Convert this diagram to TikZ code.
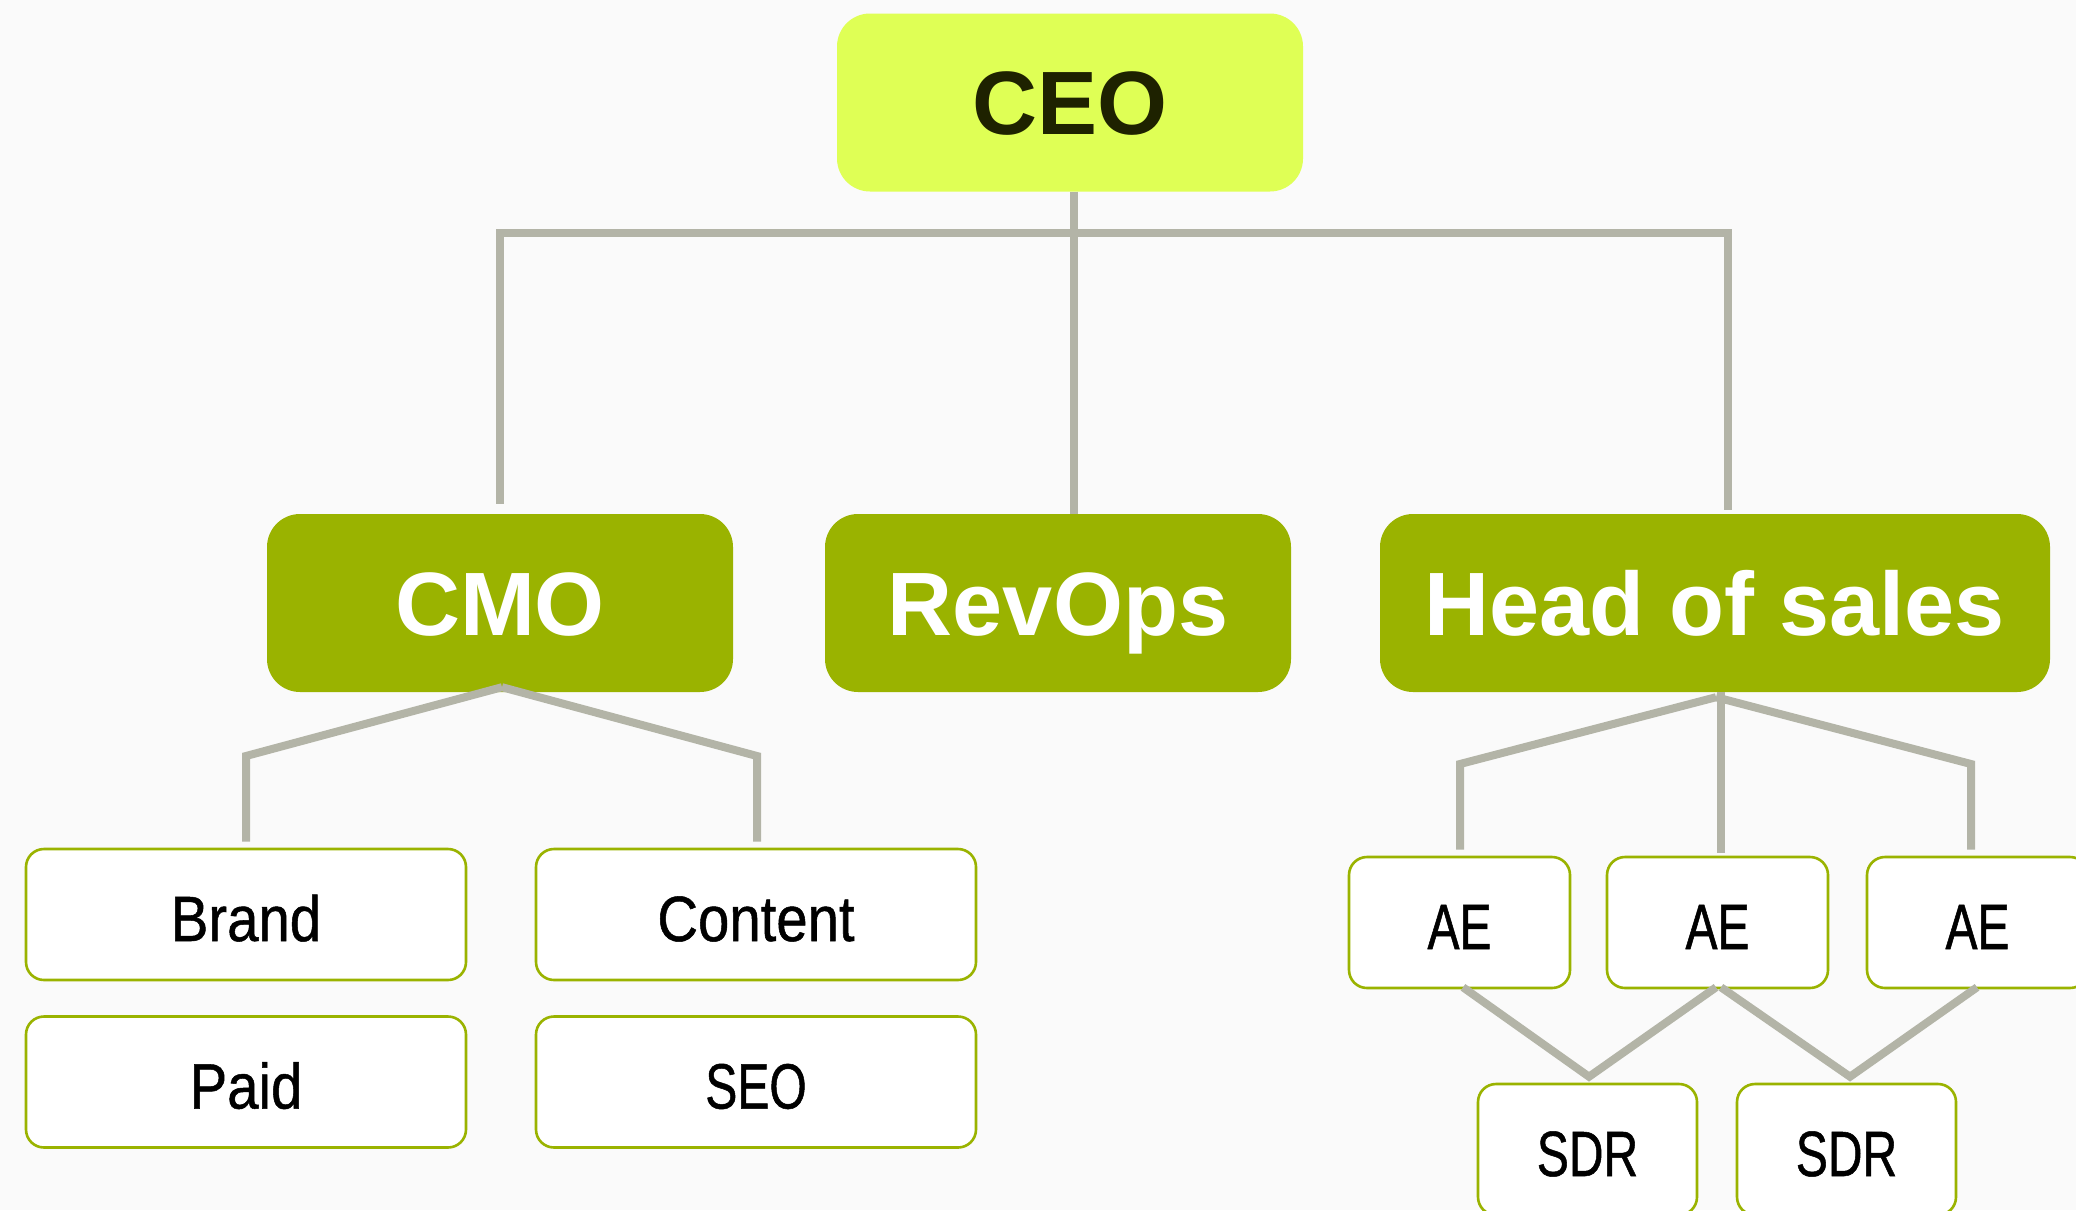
\documentclass[tikz,border=0pt]{standalone}
\usepackage{fontspec}
\setmainfont{Liberation Sans}
\newfontfamily\lblfont[FakeStretch=0.88,FakeBold=0.8]{Liberation Sans}
\newfontfamily\capfont[FakeStretch=0.75,FakeBold=0.8]{Liberation Sans}
\definecolor{bg}{HTML}{FAFAFA}
\definecolor{ceofill}{HTML}{DFFF55}
\definecolor{ceotext}{HTML}{1E2200}
\definecolor{midfill}{HTML}{9AB300}
\definecolor{linegray}{HTML}{B3B4A7}
\tikzset{
  conn/.style={draw=linegray, line width=8pt, line join=miter},
  topbox/.style={rounded corners=33pt, inner sep=0pt, minimum width=466pt, minimum height=178pt,
    text height=64pt, text depth=0pt, font=\bfseries\fontsize{90}{100}\selectfont},
  ceobox/.style={topbox, fill=ceofill, text=ceotext},
  midbox/.style={topbox, fill=midfill, text=white},
  leafbox/.style={rounded corners=18pt, draw=midfill, line width=2.6pt, fill=white, inner sep=0pt,
    minimum width=440pt, minimum height=131pt, text=black, text height=53pt, text depth=0pt,
    font=\lblfont\fontsize{64}{70}\selectfont},
  capleaf/.style={leafbox, font=\capfont\fontsize{64}{70}\selectfont},
  smallbox/.style={capleaf, minimum width=221pt}
}
\begin{document}
\begin{tikzpicture}[x=1pt,y=-1pt]
\useasboundingbox (0,0) rectangle (2076,1210);
\clip (0,0) rectangle (2076,1210);
\fill[bg] (0,0) rectangle (2076,1210);

% nodes
\node[ceobox] (ceo) at (1070,102.5) {CEO};
\node[midbox] (cmo) at (500,603) {CMO};
\node[midbox] (revops) at (1058,603) {RevOps};
\node[midbox, minimum width=670pt] (hos) at (1715,603) {Head of sales};

\node[leafbox] (brand) at (246,914.5) {Brand};
\node[leafbox] (content) at (756,914.5) {Content};
\node[leafbox] (paid) at (246,1082) {Paid};
\node[capleaf] (seo) at (756,1082) {SEO};

\node[smallbox] (ae1) at (1459.5,922.5) {AE};
\node[smallbox] (ae2) at (1717.5,922.5) {AE};
\node[smallbox] (ae3) at (1977.5,922.5) {AE};
\node[smallbox, minimum width=219pt] (sdr1) at (1587.5,1149.5) {SDR};
\node[smallbox, minimum width=219pt] (sdr2) at (1846.5,1149.5) {SDR};

% CEO connectors
\coordinate (j) at (1074,233);
\draw[conn] (ceo.south -| j) -- (revops.north -| j);
\draw[conn] (j) -| ([yshift=10pt]cmo.north);
\draw[conn] (j) -| ([xshift=13pt,yshift=4pt]hos.north);

% CMO connectors
\coordinate (cmoa) at ([xshift=2pt,yshift=5pt]cmo.south);
\draw[conn] (cmoa) -- (246,756) -- ([yshift=6pt]brand.north);
\draw[conn] (cmoa) -- (757,756) -- ([xshift=1pt,yshift=6pt]content.north);

% Head of sales connectors
\coordinate (hosa) at ([xshift=1pt,yshift=-5pt]hos.south);
\draw[conn] (hosa) -- (1460,764) -- ([xshift=0.5pt,yshift=6pt]ae1.north);
\draw[conn] ([xshift=6pt]hos.south) -- ([xshift=3.5pt,yshift=3pt]ae2.north);
\draw[conn] (hosa) -- (1971,764) -- ([xshift=-6.5pt,yshift=6pt]ae3.north);

% SDR connectors
\draw[conn] ([xshift=3.5pt,yshift=2pt]ae1.south) -- ([xshift=1.5pt,yshift=6pt]sdr1.north) -- ([xshift=-1.5pt,yshift=2pt]ae2.south);
\draw[conn] ([xshift=3.5pt,yshift=2pt]ae2.south) -- ([xshift=3.5pt,yshift=6pt]sdr2.north) -- ([xshift=-0.5pt,yshift=2pt]ae3.south);
\end{tikzpicture}
\end{document}
